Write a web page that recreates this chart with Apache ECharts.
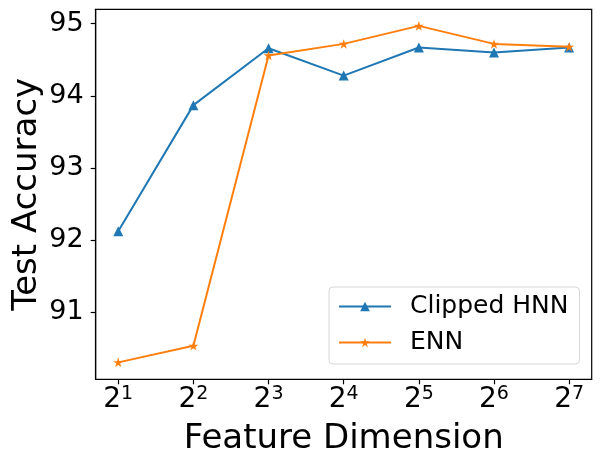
<!DOCTYPE html>
<html>
<head>
    <meta charset="utf-8" />
    <title>Test Accuracy vs Feature Dimension</title>
    <script src="https://cdn.jsdelivr.net/npm/echarts@6/dist/echarts.min.js"></script>
    <style>
        html, body { margin: 0; padding: 0; background: #fff; }
        #chart { width: 600px; height: 468px; }
    </style>
</head>
<body>
    <div id="chart"></div>
    <script>
        // feature dimension exponents: 2^1 .. 2^7
        var exponents = [1, 2, 3, 4, 5, 6, 7];
        var clippedHnn = [92.12, 93.87, 94.66, 94.28, 94.67, 94.60, 94.67];
        var enn = [90.30, 90.53, 94.56, 94.72, 94.97, 94.72, 94.68];
        var yTicks = [91, 92, 93, 94, 95];

        var font = 'DejaVu Sans';
        var starPath = 'path://M100,0 L122.45,69.1 L195.1,69.1 L136.3,111.8 L158.8,180.9 L100,138.2 L41.2,180.9 L63.7,111.8 L4.9,69.1 L77.55,69.1 Z';

        function pairs(ys) {
            return exponents.map(function (e, i) { return [e, ys[i]]; });
        }

        var myChart = echarts.init(document.getElementById('chart'), null, { renderer: 'canvas' });

        var option = {
            animation: false,
            textStyle: { fontFamily: font, color: '#000' },
            grid: {
                left: 95.7, right: 8.3, top: 9.3, bottom: 88.7,
                containLabel: false,
                outerBoundsMode: 'none',
                show: true, borderColor: '#000', borderWidth: 1.2,
                backgroundColor: 'transparent'
            },
            legend: {
                orient: 'vertical',
                left: 329, top: 287,
                padding: [7, 11, 9, 9],
                itemGap: 11,
                itemWidth: 52,
                itemHeight: 12,
                backgroundColor: '#fff',
                borderColor: '#d6d6d6',
                borderWidth: 1,
                borderRadius: 4,
                textStyle: { fontFamily: font, fontSize: 25, color: '#000', padding: [0, 0, 0, 14] },
                data: ['Clipped HNN', 'ENN']
            },
            xAxis: {
                type: 'value',
                min: 0.7, max: 7.3,
                name: 'Feature Dimension',
                nameLocation: 'middle',
                nameGap: 43,
                nameMoveOverlap: false,
                nameTextStyle: { fontFamily: font, fontSize: 34, color: '#000' },
                splitLine: { show: false },
                axisLine: { show: true, lineStyle: { color: '#000', width: 1.2 } },
                axisTick: { show: true, inside: false, length: 5, customValues: exponents, lineStyle: { color: '#000', width: 1.2 } },
                axisLabel: {
                    customValues: exponents,
                    margin: 5,
                    formatter: function (v) { return '{b|2}{s|' + v + '}'; },
                    rich: {
                        b: { fontFamily: font, fontSize: 28, color: '#000', lineHeight: 30 },
                        s: { fontFamily: font, fontSize: 19, color: '#000', verticalAlign: 'top', lineHeight: 19 }
                    }
                }
            },
            yAxis: {
                type: 'value',
                min: 90.065, max: 95.2,
                name: 'Test Accuracy',
                nameLocation: 'middle',
                nameGap: 52,
                nameMoveOverlap: false,
                nameTextStyle: { fontFamily: font, fontSize: 34, color: '#000' },
                splitLine: { show: false },
                axisLine: { show: true, lineStyle: { color: '#000', width: 1.2 } },
                axisTick: { show: true, inside: false, length: 5, customValues: yTicks, lineStyle: { color: '#000', width: 1.2 } },
                axisLabel: {
                    customValues: yTicks,
                    margin: 12,
                    fontFamily: font, fontSize: 27, color: '#000'
                }
            },
            series: [
                {
                    name: 'Clipped HNN',
                    type: 'line',
                    data: pairs(clippedHnn),
                    symbol: 'triangle',
                    symbolSize: 10,
                    showAllSymbol: true,
                    itemStyle: { color: '#1f77b4' },
                    lineStyle: { color: '#1f77b4', width: 2 }
                },
                {
                    name: 'ENN',
                    type: 'line',
                    data: pairs(enn),
                    symbol: starPath,
                    symbolSize: 10,
                    symbolKeepAspect: true,
                    showAllSymbol: true,
                    itemStyle: { color: '#ff7f0e' },
                    lineStyle: { color: '#ff7f0e', width: 2 }
                }
            ]
        };

        myChart.setOption(option);
    </script>
</body>
</html>
